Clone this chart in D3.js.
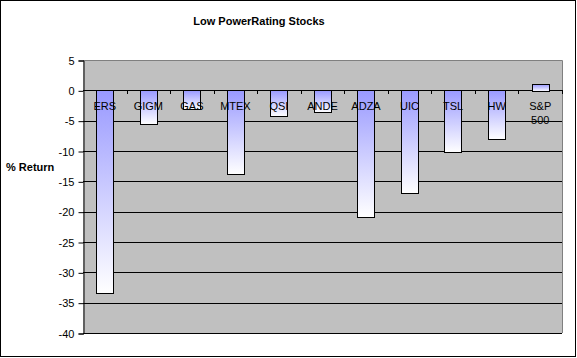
<!DOCTYPE html>
<html><head><meta charset="utf-8">
<script src="https://cdn.jsdelivr.net/npm/d3@7"></script>
<style>body{margin:0;background:#fff}svg{display:block}text{font-family:Arial,"Liberation Sans",sans-serif}</style>
</head><body><svg id="c" width="577" height="358"></svg>
<script>
const categories = ["ERS","GIGM","GAS","MTEX","QSI","ANDE","ADZA","UIC","TSL","HW","S&P 500"];
const values = [-33.4,-5.6,-3.1,-13.8,-4.3,-3.6,-20.9,-17.0,-10.2,-8.1,1.1];
const yTicks = [5,0,-5,-10,-15,-20,-25,-30,-35,-40];
const title = "Low PowerRating Stocks";
const yTitle = "% Return";

const svg = d3.select("#c");
svg.append("rect").attr("x",0.5).attr("y",0.5).attr("width",575).attr("height",356)
  .attr("fill","#fff").attr("stroke","#000");

const L=83, R=562, T=60, B=333;
const x = d3.scaleBand().domain(categories).range([L,R]).paddingInner(0.6).paddingOuter(0.3);
const xb = d3.scaleBand().domain(categories).range([L,R]);
const y = d3.scaleLinear().domain([-40,5]).range([B,T]);

const defs = svg.append("defs");
const g = defs.append("linearGradient").attr("id","gr").attr("x1",0).attr("y1",0).attr("x2",0).attr("y2",1);
g.append("stop").attr("offset","0%").attr("stop-color","#9999ff");
g.append("stop").attr("offset","100%").attr("stop-color","#ffffff");

svg.append("rect").attr("x",L).attr("y",T).attr("width",R-L).attr("height",B-T).attr("fill","#c0c0c0");
svg.append("path").attr("d",`M${L},${T+0.5}H${R+0.5}V${B}`).attr("fill","none").attr("stroke","#808080");

// gridlines
svg.append("g").selectAll("line").data(yTicks.filter(t=>t!==5)).join("line")
  .attr("x1",L).attr("x2",R).attr("y1",d=>Math.round(y(d))+0.5).attr("y2",d=>Math.round(y(d))+0.5)
  .attr("stroke","#000");

// bars
svg.append("g").selectAll("rect").data(categories).join("rect")
  .attr("x",(d)=>Math.round(x(d))+0.5)
  .attr("width",Math.round(x.bandwidth()))
  .attr("y",(d,i)=>Math.round(y(Math.max(0,values[i])))+0.5)
  .attr("height",(d,i)=>Math.round(Math.abs(y(values[i])-y(0))))
  .attr("fill","url(#gr)").attr("stroke","#000");

// zero-line category ticks
svg.append("g").selectAll("line").data(categories.slice(1).concat(["_end"])).join("line")
  .attr("x1",(d,i)=>Math.round(L+xb.step()*(i+1))+0.5).attr("x2",(d,i)=>Math.round(L+xb.step()*(i+1))+0.5)
  .attr("y1",Math.round(y(0))).attr("y2",Math.round(y(0))+4).attr("stroke","#000");

// y axis
const ya = d3.axisLeft(y).tickValues(yTicks).tickSize(5).tickPadding(4).tickFormat(d=>String(d));
const yg = svg.append("g").attr("transform",`translate(${L+0.5},0.5)`).call(ya);
yg.select(".domain").attr("stroke","#000");
yg.selectAll("text").attr("font-size",11).attr("fill","#000").attr("font-family","Arial,'Liberation Sans',sans-serif");

// category labels
const lab = svg.append("g").selectAll("text").data(categories).join("text")
  .attr("x",d=>xb(d)+xb.bandwidth()/2).attr("y",y(0)+20)
  .attr("text-anchor","middle").attr("font-size",11).attr("fill","#000");
lab.each(function(d){
  const parts = d.split(" ");
  const t = d3.select(this);
  parts.forEach((p,i)=>t.append("tspan").attr("x",xb(d)+xb.bandwidth()/2).attr("dy",i?14:0).text(p));
});

svg.append("text").attr("x",259).attr("y",25).attr("text-anchor","middle")
  .attr("font-size",11).attr("font-weight","bold").text(title);
svg.append("text").attr("x",6).attr("y",171)
  .attr("font-size",11).attr("font-weight","bold").text(yTitle);
</script></body></html>
